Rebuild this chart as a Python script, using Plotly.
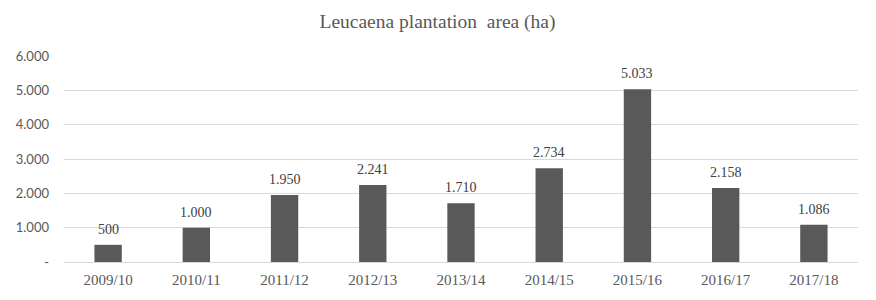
import plotly.graph_objects as go

seasons = ["2009/10", "2010/11", "2011/12", "2012/13", "2013/14",
           "2014/15", "2015/16", "2016/17", "2017/18"]
area_ha = [500, 1000, 1950, 2241, 1710, 2734, 5033, 2158, 1086]
ytick_vals = [0, 1000, 2000, 3000, 4000, 5000, 6000]
ytick_text = ["-", "1.000", "2.000", "3.000", "4.000", "5.000", "6.000"]
title_text = "Leucaena plantation\u00a0\u00a0area (ha)"


def fmt(v):
    return f"{v:,}".replace(",", ".")


serif = "Liberation Serif, Times New Roman, serif"

fig = go.Figure()
fig.add_trace(go.Bar(
    x=seasons, y=area_ha,
    marker=dict(color="#595959", line=dict(width=0)),
    hoverinfo="skip",
))

for s, v in zip(seasons, area_ha):
    fig.add_annotation(
        x=s, y=v, text=fmt(v), showarrow=False,
        yanchor="bottom", yshift=6,
        font=dict(family=serif, size=14, color="#404040"),
    )

# page body has an 8px default margin, so offsets compensate
fig.update_layout(
    width=876, height=300,
    margin=dict(l=56, r=26, t=48, b=46, autoexpand=False),
    paper_bgcolor="white", plot_bgcolor="white",
    bargap=0.69,
    showlegend=False,
    title=dict(text=title_text, x=429.5 / 876, xanchor="center",
               y=1 - 13 / 300, yanchor="middle",
               font=dict(family=serif, size=19.5, color="#595959")),
)
fig.update_xaxes(
    showgrid=False, showline=True, linecolor="#d9d9d9", linewidth=1,
    ticks="", tickfont=dict(family=serif, size=15, color="#595959"),
    ticklabelstandoff=4, automargin=False,
)
fig.update_yaxes(
    range=[0, 6000], tickvals=ytick_vals, ticktext=ytick_text,
    showgrid=True, gridcolor="#d9d9d9", gridwidth=1, zeroline=False,
    showline=False, ticks="",
    tickfont=dict(family="Lato, Carlito, sans-serif", size=13, color="#595959"),
    ticklabelstandoff=14, automargin=False,
)

fig.write_html("out.html")
